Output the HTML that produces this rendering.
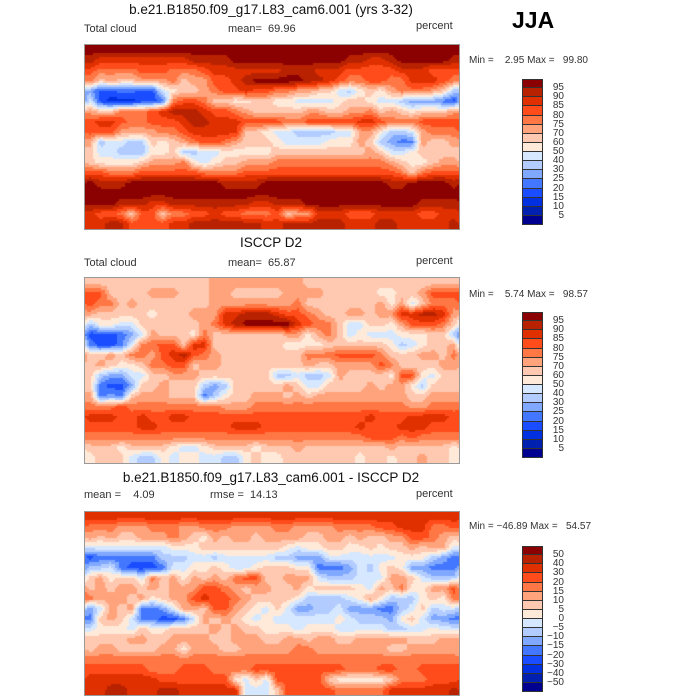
<!DOCTYPE html>
<html><head><meta charset="utf-8">
<style>
body{margin:0;background:#fff;width:700px;height:700px;position:relative;overflow:hidden;font-family:"Liberation Sans",sans-serif;color:#222}
.t{position:absolute;white-space:pre;line-height:1}
.title{font-size:13.5px;color:#111;width:374px;left:84px;text-align:center}
.sub{font-size:11px;color:#333}
.mm{font-size:10px;color:#333}
canvas{position:absolute;border:1px solid #999}
.cb{position:absolute}
</style></head><body>
<div class="t title" style="top:3px">b.e21.B1850.f09_g17.L83_cam6.001 (yrs 3-32)</div>
<div class="t sub" style="left:84px;top:24px">Total cloud</div>
<div class="t sub" style="left:228px;top:24px">mean=  69.96</div>
<div class="t sub" style="left:416px;top:21px">percent</div>
<div class="t" style="left:512px;top:9px;font-size:23px;font-weight:bold;color:#000">JJA</div>
<div class="t mm" style="left:469px;top:56px">Min =    2.95 Max =   99.80</div>

<div class="t title" style="top:236px">ISCCP D2</div>
<div class="t sub" style="left:84px;top:258px">Total cloud</div>
<div class="t sub" style="left:228px;top:258px">mean=  65.87</div>
<div class="t sub" style="left:416px;top:256px">percent</div>
<div class="t mm" style="left:469px;top:290px">Min =    5.74 Max =   98.57</div>

<div class="t title" style="top:471px">b.e21.B1850.f09_g17.L83_cam6.001 - ISCCP D2</div>
<div class="t sub" style="left:84px;top:490px">mean =    4.09</div>
<div class="t sub" style="left:210px;top:490px">rmse =  14.13</div>
<div class="t sub" style="left:416px;top:489px">percent</div>
<div class="t mm" style="left:469px;top:522px">Min = −46.89 Max =   54.57</div>

<canvas id="m1" width="374" height="184" style="left:84px;top:44px"></canvas>
<canvas id="m2" width="374" height="185" style="left:84px;top:277px"></canvas>
<canvas id="m3" width="374" height="183" style="left:84px;top:511px"></canvas>

<script>
const colors=["#000090","#0020b0","#0030e0","#1a4dff","#4477ff","#80a8ff","#b3ccff","#d6e8ff","#ffead9","#ffc8b0","#ffa37c","#ff7744","#ff4c1a","#e03000","#b82200","#8b0000"];
const labelsAbs=["95","90","85","80","75","70","60","50","40","30","25","20","15","10","5"];
const labelsDiff=["50","40","30","20","15","10","5","0","\u22125","\u221210","\u221215","\u221220","\u221230","\u221240","\u221250"];
const gridModel=[
"ffffffffffffffffffffffffffffffffffff",
"edddddddddeeeefffffffffffeeddefffffe",
"cbbbbcccbbbcdddddddeeedddcccccdddccc",
"b9a99aaab9aaccdefffffeedcbbccbbdddcb",
"53344337899abccdccbbaa9976898abbba96",
"73222334bccb998899887777899877655543",
"a99bbbcdeeedccba99999aa99aab9a98999a",
"cddcbbcccdeedddccccbbcccccddcbbbcccc",
"cccaaaabbcddddd99877666677aa8667abbb",
"a67766989abccba99987777888a96544a99a",
"977666889667788888999999999a97789999",
"988889aaab87899aaabbbbbbbbbbba9889aa",
"ccbbbccccccbbbbcccccccccccccccb9bccc",
"feeefffffffffeeeeffffffffffffeeffffe",
"ffffffffffffffffffffffffffffffffffff",
"fffeeeddeeeeeeeeddeeefffffffffffeeee",
"dccb9cc9bbccdccbbbc9aadddcccddddccdd",
"ddeeccccddeeeeeeeddeeeeeedddeeddddde"];
const gridObs=[
"999999999999aaaaaaaaa999999999999999",
"cc9999aaa999aa99999aaaa999998899accc",
"cbb9a9999999aaaaaaaab9999999a8a79bbb",
"a999998999aaaddeeedccba99aa9aaddeeda",
"68877999999abdefffffdcbb977998acccb9",
"333457a9998b9999999aa8ab978777888996",
"43347bbcc9dd99999998888999999867899a",
"99a9bbacdecba99999999bbbccccb999aa9b",
"9a9889bbcc9aa99999999a99aaaacb9999aa",
"96557799aaa9999999667667a99998cc8799",
"9433599a99965699999a9779999a9aa86999",
"a4549aaa99946899aaa9a9aaaaaaaaa99aaa",
"bbbcbbbbbbbbbaaabbbbbbbbbbbbbbbaabbb",
"dddccdccddcccccccccccccccccdcccddddc",
"cccccddcccccccdddcccccccccdcccdddccc",
"bbbbbbbbbbbbbbbbbbbbbbbbbbbcccbcbbbb",
"99989999877899998999a99999999a999998",
"89997668788776689889999999899899a998"];
const gridDiff=[
"dddddddddddddddddddddddddddddddddddd",
"bbbaaabbbaabbbaaaabbaaaabbbbccdddbbc",
"a9a99aaaba98a9aa9aaaa99aa9a99aaccba9",
"7777777788899999999878899889899a9aa7",
"344444466677677777665557777777888654",
"667433347788987789998844457689855444",
"9a8997b9a8a9a9bcc99aaa7666777aa97666",
"9a9aa9a9aaaccba9aa99a8999987a9b88aac",
"baaa9a89aacdccba99998666678a8666898b",
"57a9a4457aa9cca9879755667555446796779",
"49a97443347a9a9878777777876665897554",
"788879889999a9a99888788877777667787",
"9999aa99aaaa99aaa99aa9aa99aaaaa999aa",
"9aa9999aa8aaa99aaaaabbaaaaaaa99aaaaa",
"bbbbbbbbbbbbbbbbbbbbbbbbbbbbbbbbbbbb",
"ccccccbbbcccbbbbcccccccccbbbccbbcccc",
"dddddddccccccc8797ccccc9888889bbbccc",
"ddeedddeedddddd7779cccccbbbbbdddddde"];

function parse(g){return g.map(r=>{let a=r.split('').map(c=>parseInt(c,16));while(a.length<36)a.push(a[a.length-1]);return a.slice(0,36);});}
function drawMap(id,grid){
  const cv=document.getElementById(id),ctx=cv.getContext('2d');
  const W=cv.width,H=cv.height,G=parse(grid),R=G.length,C=36;
  const xs=x=>x/W*C-0.5, ys=y=>y/H*R-0.5;
  const step=2;
  for(let y=0;y<H;y+=step){for(let x=0;x<W;x+=step){
    let gx=xs(x+1),gy=Math.max(0,Math.min(R-1,ys(y+1)));
    let x0=Math.floor(gx),y0=Math.floor(gy),fx=gx-x0,fy=gy-y0;
    let xa=((x0%C)+C)%C,xb=(xa+1)%C,y1=Math.min(R-1,y0+1);
    let v=(G[y0][xa]*(1-fx)+G[y0][xb]*fx)*(1-fy)+(G[y1][xa]*(1-fx)+G[y1][xb]*fx)*fy;
    ctx.fillStyle=colors[Math.max(0,Math.min(15,Math.round(v)))];
    ctx.fillRect(x,y,step,step);
  }}
}
drawMap('m1',gridModel);drawMap('m2',gridObs);drawMap('m3',gridDiff);

function colorbar(name,top,labels){
  const h=146/16;
  for(let i=0;i<16;i++){
    const d=document.createElement('div');
    
    
    d.className='cb';
    d.style.cssText=`left:522px;top:${top+i*h}px;width:21px;height:${h}px;background:${colors[15-i]};box-sizing:border-box;border:1px solid #333;border-top-width:${i?0:1}px`;
    document.body.appendChild(d);
  }
  labels.forEach((l,i)=>{
    const t=document.createElement('div');
    
    
    t.className='t mm';
    t.style.cssText=`left:530px;width:34px;text-align:right;top:${top+(i+1)*h-5}px`;
    t.textContent=l;
    document.body.appendChild(t);
  });
}
colorbar('colorbar-model',79,labelsAbs);
colorbar('colorbar-obs',312,labelsAbs);
colorbar('colorbar-diff',546,labelsDiff);
</script>
</body></html>
